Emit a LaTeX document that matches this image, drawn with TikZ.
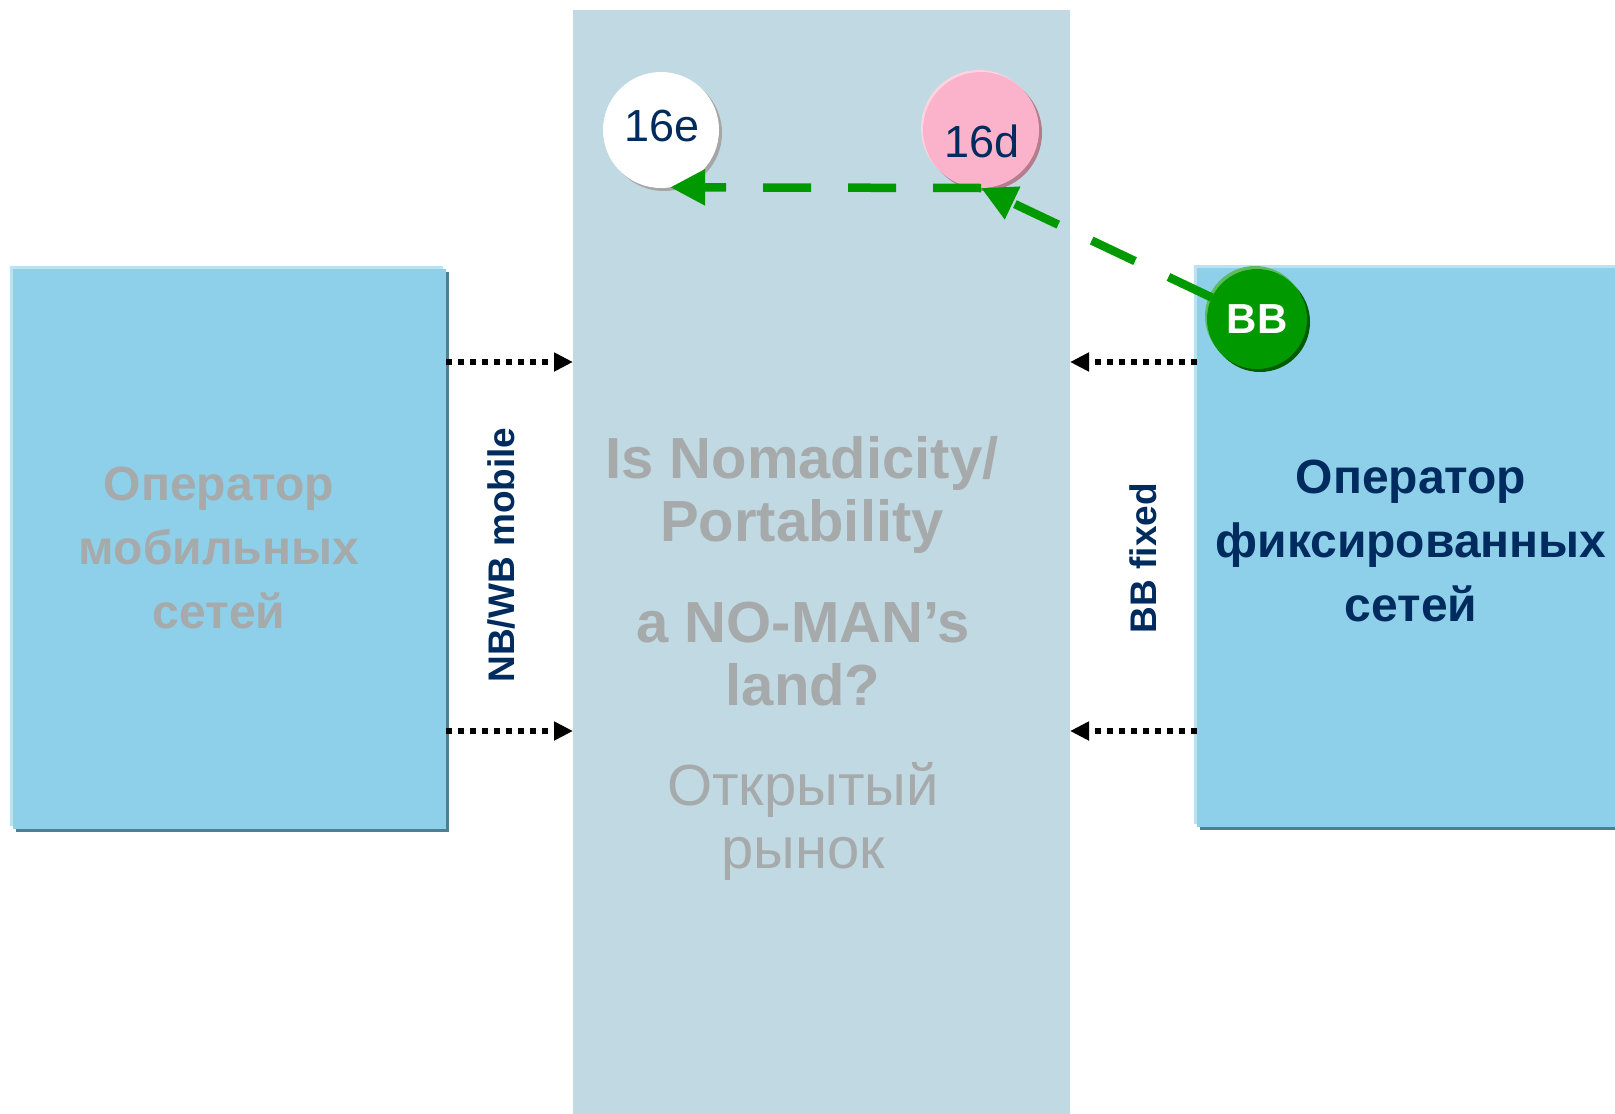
\documentclass[tikz,border=0pt]{standalone}
\usepackage{fontspec}
\setmainfont{Liberation Sans}
\usetikzlibrary{arrows.meta}
\definecolor{colbg}{HTML}{C0D9E2}
\definecolor{boxfill}{HTML}{8ECFE9}
\definecolor{boxlight}{HTML}{B9E3F3}
\definecolor{boxshadow}{HTML}{4E7F8F}
\definecolor{graytxt}{HTML}{A6AAAB}
\definecolor{navy}{HTML}{002B5E}
\definecolor{grn}{HTML}{009900}
\definecolor{pinkc}{HTML}{FBB3CB}
\definecolor{pinkshadow}{HTML}{B57C8C}
\definecolor{pinklight}{HTML}{FFD3E0}
\definecolor{grnshadow}{HTML}{005C00}
\definecolor{grnlight}{HTML}{5EBB5E}
\tikzset{
  opbox/.style={rectangle, fill=boxfill, draw=none, inner sep=0pt, outer sep=0pt},
  colbox/.style={rectangle, fill=colbg, draw=none, inner sep=0pt, outer sep=0pt},
  optext/.style={align=center, inner sep=0pt, font=\fontsize{48}{64}\selectfont\bfseries},
  midbold/.style={align=center, inner sep=0pt, text=graytxt, font=\fontsize{58}{63}\selectfont\bfseries},
  midreg/.style={align=center, inner sep=0pt, text=graytxt, font=\fontsize{58}{63}\selectfont},
  vtext/.style={rotate=90, inner sep=0pt, text=navy, font=\fontsize{37}{40}\selectfont\bfseries},
  bubble/.style={circle, minimum size=116pt, inner sep=0pt, outer sep=0pt, draw=none},
  bubtext/.style={text=navy, font=\fontsize{45}{50}\selectfont},
  dotarrow/.style={draw=black, line width=6pt, dash pattern=on 6pt off 6pt, -{Triangle[length=19pt,width=18pt]}},
  greenline/.style={draw=grn, line width=8.5pt, dash pattern=on 48pt off 37pt, -{Triangle[length=35pt,width=34pt]}}
}
\begin{document}
\begin{tikzpicture}[x=1pt,y=-1pt]
\useasboundingbox (0,0) rectangle (1615,1114);
\fill[white] (0,0) rectangle (1615,1114);
% central column
\node[colbox, minimum width=497pt, minimum height=1104pt] (C) at (821.5,562) {};
% left box
\fill[boxshadow] (16,272) rectangle (449,832);
\fill[boxlight] (10,266) rectangle (443,826);
\node[opbox, minimum width=433pt, minimum height=560pt] (L) at (229.5,549) {};
% right box
\fill[boxshadow] (1200,271) rectangle (1615,830);
\fill[boxlight] (1194,265) rectangle (1615,824);
\node[opbox, minimum width=418pt, minimum height=559pt] (R) at (1406,547.5) {};
% texts in boxes
\node[optext, text=graytxt] (Ltext) at (219,548) {Оператор\\мобильных\\сетей};
\node[optext, text=navy] (Rtext) at (1411,541) {Оператор\\фиксированных\\сетей};
% central texts
\node[midbold] (q1) at (802,495) {Is Nomadicity/\\Portability};
\node[midbold] (q2) at (803,654) {a NO-MAN’s\\land?};
\node[midreg] (q3) at (803,821) {Открытый\\рынок};
% vertical labels
\node[vtext] (nbwb) at (501,555) {NB/WB mobile};
\node[vtext] (bbf) at (1143,558) {BB fixed};
% dotted arrows
\draw[dotarrow] (L.east |- 0,362) -- (C.west |- 0,362);
\draw[dotarrow] (L.east |- 0,731) -- (C.west |- 0,731);
\draw[dotarrow] (R.west |- 0,362) -- (C.east |- 0,362);
\draw[dotarrow] (R.west |- 0,731) -- (C.east |- 0,731);
% bubbles
\fill[gray!70] (664,133) circle (58);
\node[bubble, fill=white] (e16) at (661,130) {};
\node[bubtext] (e16t) at (662,126) {16e};
\fill[pinkshadow] (984,133) circle (58);
\fill[pinklight] (979,128) circle (58);
\node[bubble, fill=pinkc] (d16) at (981,130) {};
\node[bubtext] (d16t) at (982,141) {16d};
\fill[grnshadow] (1260,322) circle (50);
\fill[grnlight] (1255,316) circle (50);
\node[bubble, minimum size=100pt, fill=grn, text=white, font=\fontsize{42}{46}\selectfont\bfseries] (BB) at (1257,319) {BB};
% green dashed arrows
\draw[greenline] (BB) -- (d16.south);
\draw[greenline] (d16.south) -- (e16.-81);
\end{tikzpicture}
\end{document}
